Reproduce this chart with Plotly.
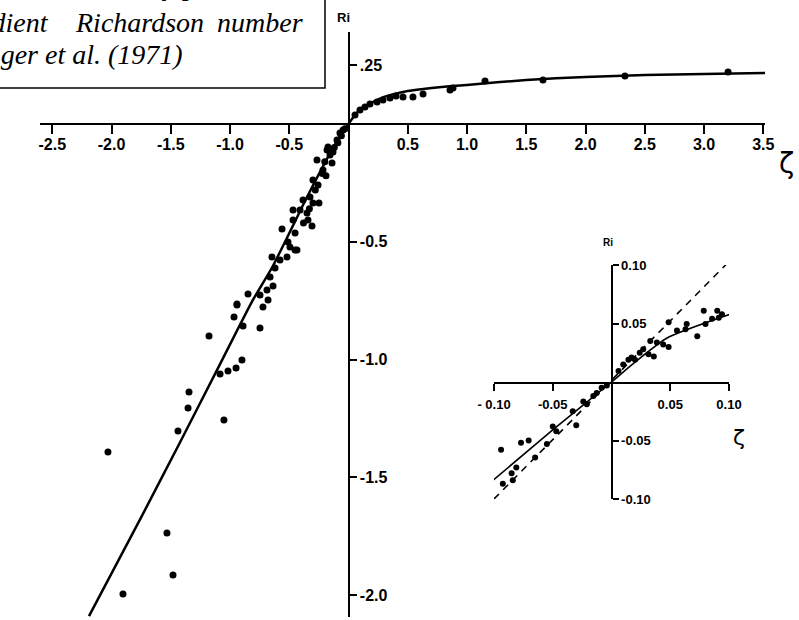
import plotly.graph_objects as go

W, H = 799, 620

# ---------------- data ----------------
# main fitted curve (zeta, Ri)
curve_zeta = [-2.19, -1.76, -1.43, -1.11, -0.81, -0.64, -0.35, -0.20, -0.13, -0.055, 0.0,
              0.05, 0.10, 0.20, 0.30, 0.50, 0.70, 1.00, 1.50, 2.00, 2.50, 3.00, 3.55]
curve_ri = [-2.09, -1.68, -1.36, -1.045, -0.75, -0.605, -0.31, -0.165, -0.10, -0.042, 0.0,
            0.035, 0.062, 0.092, 0.115, 0.140, 0.153, 0.166, 0.187, 0.200, 0.208, 0.212, 0.217]

# main observations, unstable side
obs_zeta_unstable = [-0.941, -0.966, -0.890, -1.177, -0.899, -0.949, -1.017, -1.084, -1.346, -1.354,
                     -1.439, -1.051, -2.030, -1.532, -1.481, -1.903, -0.747,
                     -0.941, -0.848, -0.747, -0.688, -0.637, -0.679, -0.722, -0.646, -0.519, -0.435,
                     -0.494, -0.561, -0.468, -0.308, -0.350, -0.249, -0.325, -0.384, -0.300, -0.266,
                     -0.181, -0.156, -0.097, -0.215, -0.257, -0.139, -0.072, -0.046, -0.300, -0.342,
                     -0.451, -0.511, -0.578, -0.620, -0.662, -0.468, -0.409, -0.451, -0.173, -0.131,
                     -0.03, -0.06, -0.09, -0.12, -0.20, -0.22, -0.19, -0.28, -0.33, -0.38]
obs_ri_unstable = [-0.769, -0.820, -0.858, -0.900, -1.002, -1.036, -1.049, -1.062, -1.138, -1.206,
                   -1.304, -1.257, -1.393, -1.737, -1.915, -1.996, -0.866,
                   -0.764, -0.722, -0.726, -0.705, -0.688, -0.747, -0.777, -0.565, -0.565, -0.535,
                   -0.522, -0.446, -0.365, -0.433, -0.378, -0.335, -0.310, -0.323, -0.238, -0.153,
                   -0.110, -0.132, -0.068, -0.195, -0.259, -0.166, -0.038, -0.025, -0.335, -0.408,
                   -0.463, -0.501, -0.577, -0.611, -0.650, -0.408, -0.365, -0.535, -0.098, -0.119,
                   -0.02, -0.05, -0.08, -0.10, -0.16, -0.21, -0.22, -0.28, -0.36, -0.42]

# main observations, stable side
obs_zeta_stable = [0.055, 0.097, 0.139, 0.181, 0.241, 0.291, 0.350, 0.401, 0.460, 0.544,
                   0.629, 0.857, 0.882, 1.152, 1.641, 2.333, 3.203]
obs_ri_stable = [0.038, 0.059, 0.072, 0.085, 0.093, 0.102, 0.110, 0.119, 0.115, 0.115,
                 0.127, 0.144, 0.153, 0.183, 0.187, 0.204, 0.221]

main_x_ticks = [-2.5, -2.0, -1.5, -1.0, -0.5, 0.5, 1.0, 1.5, 2.0, 2.5, 3.0, 3.5]
main_x_labels = ["-2.5", "-2.0", "-1.5", "-1.0", "-0.5", "0.5", "1.0", "1.5", "2.0", "2.5", "3.0", "3.5"]
main_y_ticks = [0.25, -0.5, -1.0, -1.5, -2.0]
main_y_labels = [".25", "-0.5", "-1.0", "-1.5", "-2.0"]

# inset: fitted curve, Ri = zeta reference line, observations
inset_curve_zeta = [-0.1056, -0.05, 0.0, 0.02, 0.048, 0.101]
inset_curve_ri = [-0.088, -0.041, 0.0, 0.017, 0.038, 0.058]
inset_dash_zeta = [-0.100, 0.101]
inset_dash_ri = [-0.100, 0.104]
inset_obs_zeta = [-0.101, -0.094, -0.0925, -0.084, -0.081, -0.085, -0.077, -0.0705, -0.065, -0.055,
                  -0.050, -0.047, -0.030, -0.033, -0.024, -0.021, -0.0155, -0.0126, -0.0084, -0.004,
                  0.006, 0.010, 0.0144, 0.017, 0.020, 0.024, 0.027, 0.0315, 0.036, 0.033,
                  0.0386, 0.044, 0.0486, 0.0486, 0.0557, 0.063, 0.064, 0.073, 0.0785, 0.080,
                  0.0856, 0.090, 0.0913, 0.094]
inset_obs_ri = [-0.0754, -0.058, -0.087, -0.084, -0.073, -0.078, -0.052, -0.050, -0.0645, -0.053,
                -0.038, -0.042, -0.037, -0.025, -0.0166, -0.019, -0.012, -0.0093, -0.005, -0.003,
                0.0093, 0.015, 0.019, 0.021, 0.019, 0.025, 0.028, 0.0237, 0.0217, 0.035,
                0.0338, 0.032, 0.030, 0.051, 0.044, 0.045, 0.0496, 0.039, 0.061, 0.0496,
                0.054, 0.061, 0.055, 0.058]
inset_ticks = [-0.10, -0.05, 0.05, 0.10]
inset_x_labels = ["- 0.10", "-0.05", "0.05", "0.10"]
inset_y_labels = ["-0.10", "-0.05", "0.05", "0.10"]

# ---------------- figure ----------------
def px(x):
    return x / W

def py(y):
    return 1 - y / H

fig = go.Figure()

fig.add_trace(go.Scatter(x=curve_zeta, y=curve_ri, mode="lines",
                         line=dict(color="black", width=2.5, shape="spline", smoothing=0.5),
                         xaxis="x", yaxis="y", hoverinfo="skip"))
fig.add_trace(go.Scatter(x=obs_zeta_unstable + obs_zeta_stable, y=obs_ri_unstable + obs_ri_stable,
                         mode="markers", marker=dict(color="black", size=7),
                         xaxis="x", yaxis="y", cliponaxis=False))

fig.add_trace(go.Scatter(x=inset_dash_zeta, y=inset_dash_ri, mode="lines",
                         line=dict(color="black", width=1.6, dash="7px,6px"),
                         xaxis="x2", yaxis="y2"))
fig.add_trace(go.Scatter(x=inset_curve_zeta, y=inset_curve_ri, mode="lines",
                         line=dict(color="black", width=1.6, shape="spline", smoothing=0.6),
                         xaxis="x2", yaxis="y2"))
fig.add_trace(go.Scatter(x=inset_obs_zeta, y=inset_obs_ri, mode="markers",
                         marker=dict(color="black", size=6),
                         xaxis="x2", yaxis="y2", cliponaxis=False))

tick_font = dict(family="Liberation Sans, Arial, sans-serif", size=16, color="black", weight="bold")
inset_font = dict(family="Liberation Sans, Arial, sans-serif", size=13, color="black", weight="bold")

x0, x_scale = 348.5, 118.5
y0, y_scale = 124.0, 235.5
main_left, main_right = 40, 765
main_top, main_bottom = 32, 617

in_x0, in_y0 = 611.5, 382.5
in_left, in_right = 494, 729
in_top, in_bottom = 265, 499

fig.update_layout(
    width=W, height=H,
    margin=dict(l=0, r=0, t=0, b=0, autoexpand=False),
    paper_bgcolor="white", plot_bgcolor="rgba(0,0,0,0)",
    showlegend=False,
    xaxis=dict(domain=[px(main_left), px(main_right)],
               range=[(main_left - x0) / x_scale, (main_right - x0) / x_scale],
               anchor="free", position=py(y0), automargin=False,
               showline=True, linecolor="black", linewidth=2.2,
               ticks="outside", ticklen=9, tickwidth=2, tickcolor="black",
               tickvals=main_x_ticks, ticktext=main_x_labels, tickfont=tick_font,
               ticklabelstandoff=-3,
               showgrid=False, zeroline=False),
    yaxis=dict(domain=[py(main_bottom), py(main_top)],
               range=[(y0 - main_bottom) / y_scale, (y0 - main_top) / y_scale],
               anchor="free", position=px(x0), side="right", automargin=False,
               showline=True, linecolor="black", linewidth=2.2,
               ticks="outside", ticklen=7, tickwidth=2, tickcolor="black",
               tickvals=main_y_ticks, ticktext=main_y_labels, tickfont=tick_font,
               showgrid=False, zeroline=False),
    xaxis2=dict(domain=[px(in_left), px(in_right)], range=[-0.10, 0.10],
                anchor="free", position=py(in_y0), automargin=False,
                showline=True, linecolor="black", linewidth=2,
                ticks="outside", ticklen=7, tickwidth=1.8, tickcolor="black",
                tickvals=inset_ticks, ticktext=inset_x_labels, tickfont=inset_font,
                ticklabelstandoff=3,
                showgrid=False, zeroline=False),
    yaxis2=dict(domain=[py(in_bottom), py(in_top)], range=[-0.10, 0.10],
                anchor="free", position=px(in_x0), side="right", automargin=False,
                showline=True, linecolor="black", linewidth=2,
                ticks="outside", ticklen=6, tickwidth=1.8, tickcolor="black",
                tickvals=inset_ticks, ticktext=inset_y_labels, tickfont=inset_font,
                showgrid=False, zeroline=False),
)

# caption box (cropped at the top-left of the page, as in the reference)
fig.add_shape(type="rect", xref="paper", yref="paper",
              x0=-0.05, x1=px(325), y0=py(88), y1=1.05,
              line=dict(color="black", width=1.5), fillcolor="rgba(0,0,0,0)")

cap_font = dict(family="Liberation Serif, Times New Roman, serif", size=28, color="black", style="italic")
fig.add_annotation(text="Relationship between the stability parameter", xref="paper", yref="paper",
                   x=px(302), y=py(-15), xanchor="right", yanchor="middle",
                   showarrow=False, font=cap_font)
fig.add_annotation(text="ζ and the gradient", xref="paper", yref="paper",
                   x=px(51), y=py(22.5), xanchor="right", yanchor="middle",
                   showarrow=False, font=cap_font)
fig.add_annotation(text="Richardson", xref="paper", yref="paper",
                   x=px(73), y=py(22.5), xanchor="left", yanchor="middle",
                   showarrow=False, font=cap_font)
fig.add_annotation(text="number", xref="paper", yref="paper",
                   x=px(305), y=py(22.5), xanchor="right", yanchor="middle",
                   showarrow=False, font=cap_font)
fig.add_annotation(text="from Businger et al. (1971)", xref="paper", yref="paper",
                   x=px(185), y=py(54), xanchor="right", yanchor="middle",
                   showarrow=False, font=cap_font)

# axis titles
lab_font = dict(family="Liberation Sans, Arial, sans-serif", size=13, color="black", weight="bold")
fig.add_annotation(text="Ri", xref="paper", yref="paper", x=px(343), y=py(17),
                   xanchor="center", yanchor="middle", showarrow=False, font=lab_font)
fig.add_annotation(text="ζ", xref="paper", yref="paper", x=px(786), y=py(163),
                   xanchor="center", yanchor="middle", showarrow=False,
                   font=dict(family="DejaVu Sans, sans-serif", size=28, color="black"))
fig.add_annotation(text="Ri", xref="paper", yref="paper", x=px(608), y=py(242),
                   xanchor="center", yanchor="middle", showarrow=False,
                   font=dict(family="Liberation Sans, Arial, sans-serif", size=10, color="black", weight="bold"))
fig.add_annotation(text="ζ", xref="paper", yref="paper", x=px(739), y=py(437),
                   xanchor="center", yanchor="middle", showarrow=False,
                   font=dict(family="DejaVu Sans, sans-serif", size=22, color="black"))

fig.write_html("out.html")
